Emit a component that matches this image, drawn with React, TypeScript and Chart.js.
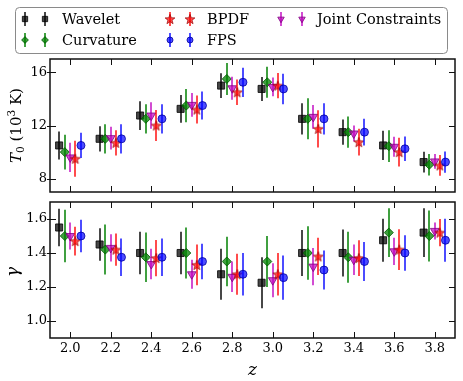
import React, { useEffect, useRef } from 'react';
import { Chart, registerables } from 'chart.js';
import { drawPoint } from 'chart.js/helpers';

Chart.register(...registerables);

// ---------------- data ----------------
const zValues = [2.0, 2.2, 2.4, 2.6, 2.8, 3.0, 3.2, 3.4, 3.6, 3.8];
const zTicks = [2.0, 2.2, 2.4, 2.6, 2.8, 3.0, 3.2, 3.4, 3.6, 3.8];
const zTickLabels = ['2.0', '2.2', '2.4', '2.6', '2.8', '3.0', '3.2', '3.4', '3.6', '3.8'];
const t0Ticks = [8, 12, 16];
const gammaTicks = [1.0, 1.2, 1.4, 1.6];
const gammaTickLabels = ['1.0', '1.2', '1.4', '1.6'];

const seriesNames = ['Wavelet', 'Curvature', 'BPDF', 'FPS', 'Joint Constraints'];

// T0 (10^3 K)
const waveletT0 = [10.5, 11.0, 12.75, 13.25, 15.0, 14.75, 12.5, 11.5, 10.5, 9.25];
const waveletT0Err = [1.05, 0.95, 1.08, 1.05, 0.93, 0.9, 1.17, 0.95, 1.1, 0.78];
const curvatureT0 = [10.0, 11.0, 12.5, 13.5, 15.5, 15.25, 12.5, 11.5, 10.45, 9.05];
const curvatureT0Err = [1.3, 1.1, 1.1, 1.25, 1.2, 1.16, 1.54, 1.17, 1.2, 0.8];
const bpdfT0 = [9.5, 10.7, 12.0, 13.2, 14.5, 15.0, 11.75, 10.75, 10.0, 9.0];
const bpdfT0Err = [1.35, 0.95, 1.17, 1.05, 0.95, 0.95, 1.4, 1.0, 1.08, 0.78];
const fpsT0 = [10.5, 11.0, 12.5, 13.5, 15.25, 14.75, 12.5, 11.5, 10.25, 9.25];
const fpsT0Err = [0.95, 1.1, 1.1, 1.05, 1.1, 1.15, 1.17, 1.0, 0.92, 0.8];
const jointT0 = [9.6, 11.05, 12.75, 13.55, 14.8, 14.9, 12.65, 11.4, 10.4, 9.3];
const jointT0Err = [1.1, 0.85, 1.0, 0.9, 0.87, 0.7, 0.9, 0.6, 0.75, 0.55];

// gamma
const waveletGamma = [1.55, 1.45, 1.4, 1.4, 1.275, 1.225, 1.4, 1.4, 1.475, 1.52];
const waveletGammaErr = [0.11, 0.095, 0.125, 0.125, 0.15, 0.15, 0.135, 0.138, 0.127, 0.143];
const curvatureGamma = [1.5, 1.42, 1.375, 1.4, 1.35, 1.35, 1.4, 1.375, 1.52, 1.5];
const curvatureGammaErr = [0.155, 0.147, 0.145, 0.15, 0.145, 0.15, 0.157, 0.15, 0.143, 0.15];
const bpdfGamma = [1.47, 1.42, 1.37, 1.33, 1.275, 1.275, 1.38, 1.37, 1.42, 1.52];
const bpdfGammaErr = [0.085, 0.095, 0.107, 0.12, 0.12, 0.125, 0.11, 0.105, 0.12, 0.08];
const fpsGamma = [1.5, 1.375, 1.375, 1.35, 1.275, 1.255, 1.3, 1.35, 1.4, 1.475];
const fpsGammaErr = [0.095, 0.11, 0.11, 0.105, 0.125, 0.13, 0.115, 0.115, 0.105, 0.127];
const jointGamma = [1.5, 1.43, 1.335, 1.275, 1.26, 1.24, 1.32, 1.36, 1.41, 1.53];
const jointGammaErr = [0.08, 0.08, 0.09, 0.085, 0.09, 0.1, 0.11, 0.09, 0.08, 0.05];

// ---------------- styles ----------------
const FONT = "'DejaVu Serif', serif";

type Spec = {
  name: string;
  t0: number[]; t0Err: number[]; g: number[]; gErr: number[];
  color: string; edge: string; style: string; radius: number; rotation: number;
  dz: number; order: number;
};

const specs: Spec[] = [
  { name: seriesNames[0], t0: waveletT0, t0Err: waveletT0Err, g: waveletGamma, gErr: waveletGammaErr,
    color: 'rgba(0,0,0,0.72)', edge: 'rgba(0,0,0,0.8)', style: 'rect', radius: 5, rotation: 0, dz: -0.055, order: 4 },
  { name: seriesNames[1], t0: curvatureT0, t0Err: curvatureT0Err, g: curvatureGamma, gErr: curvatureGammaErr,
    color: 'rgba(0,128,0,0.75)', edge: 'rgba(0,90,0,0.85)', style: 'rectRot', radius: 4.5, rotation: 0, dz: -0.027, order: 3 },
  { name: seriesNames[2], t0: bpdfT0, t0Err: bpdfT0Err, g: bpdfGamma, gErr: bpdfGammaErr,
    color: 'rgba(255,0,0,0.7)', edge: 'rgba(150,0,0,0.8)', style: 'star', radius: 5, rotation: 0, dz: 0.025, order: 1 },
  { name: seriesNames[3], t0: fpsT0, t0Err: fpsT0Err, g: fpsGamma, gErr: fpsGammaErr,
    color: 'rgba(0,0,255,0.7)', edge: 'rgba(0,0,160,0.8)', style: 'circle', radius: 4, rotation: 0, dz: 0.053, order: 0 },
  { name: seriesNames[4], t0: jointT0, t0Err: jointT0Err, g: jointGamma, gErr: jointGammaErr,
    color: 'rgba(191,0,191,0.7)', edge: 'rgba(130,0,130,0.8)', style: 'triangle', radius: 5, rotation: 180, dz: 0, order: 2 },
];

function makeStar(fill: string, stroke: string, R: number) {
  const size = Math.ceil(R * 2 + 3);
  const c = document.createElement('canvas');
  c.width = size; c.height = size;
  const ctx = c.getContext('2d')!;
  const cx = size / 2, cy = size / 2 + 0.5;
  ctx.beginPath();
  for (let i = 0; i < 10; i++) {
    const r = i % 2 === 0 ? R : R * 0.42;
    const a = -Math.PI / 2 + (i * Math.PI) / 5;
    const x = cx + r * Math.cos(a), y = cy + r * Math.sin(a);
    if (i === 0) ctx.moveTo(x, y); else ctx.lineTo(x, y);
  }
  ctx.closePath();
  ctx.fillStyle = fill; ctx.fill();
  ctx.strokeStyle = stroke; ctx.lineWidth = 0.8; ctx.stroke();
  return c;
}

const errorBarPlugin = {
  id: 'errorBars',
  beforeDatasetDraw(chart: any, args: any) {
    const ds = chart.data.datasets[args.index];
    const errs: number[] | undefined = ds.errors;
    if (!errs) return;
    const xs = chart.scales.x, ys = chart.scales.y;
    const ctx = chart.ctx;
    ctx.save();
    ctx.strokeStyle = ds.errorColor;
    ctx.lineWidth = 2;
    ds.data.forEach((p: any, j: number) => {
      const x = Math.round(xs.getPixelForValue(p.x));
      ctx.beginPath();
      ctx.moveTo(x, ys.getPixelForValue(p.y - errs[j]));
      ctx.lineTo(x, ys.getPixelForValue(p.y + errs[j]));
      ctx.stroke();
    });
    ctx.restore();
  },
};

function drawMixed(ctx: CanvasRenderingContext2D, parts: { t: string; font: string; dy: number }[], cx: number, cy: number) {
  let total = 0;
  parts.forEach((p) => { ctx.font = p.font; total += ctx.measureText(p.t).width; });
  let x = -total / 2;
  ctx.save();
  ctx.translate(cx, cy);
  ctx.rotate(-Math.PI / 2);
  ctx.textBaseline = 'alphabetic';
  ctx.textAlign = 'left';
  ctx.fillStyle = '#000';
  parts.forEach((p) => {
    ctx.font = p.font;
    ctx.fillText(p.t, x, 5 + p.dy);
    x += ctx.measureText(p.t).width;
  });
  ctx.restore();
}

function roundRectPath(ctx: CanvasRenderingContext2D, x: number, y: number, w: number, h: number, r: number) {
  ctx.beginPath();
  ctx.moveTo(x + r, y);
  ctx.lineTo(x + w - r, y);
  ctx.quadraticCurveTo(x + w, y, x + w, y + r);
  ctx.lineTo(x + w, y + h - r);
  ctx.quadraticCurveTo(x + w, y + h, x + w - r, y + h);
  ctx.lineTo(x + r, y + h);
  ctx.quadraticCurveTo(x, y + h, x, y + h - r);
  ctx.lineTo(x, y + r);
  ctx.quadraticCurveTo(x, y, x + r, y);
  ctx.closePath();
}

function drawLegend(ctx: CanvasRenderingContext2D, stars: HTMLCanvasElement) {
  ctx.save();
  roundRectPath(ctx, 15.5, 7.5, 432, 46, 4);
  ctx.fillStyle = 'rgba(255,255,255,0.95)';
  ctx.fill();
  ctx.strokeStyle = '#8a8a8a';
  ctx.lineWidth = 1;
  ctx.stroke();
  const slots = [
    { mx: [25, 45], tx: 62, y: 19 },
    { mx: [25, 45], tx: 62, y: 40 },
    { mx: [170, 190], tx: 207, y: 19 },
    { mx: [170, 190], tx: 207, y: 40 },
    { mx: [281, 302], tx: 317, y: 19 },
  ];
  specs.forEach((s, i) => {
    const slot = slots[i];
    slot.mx.forEach((mx) => {
      ctx.strokeStyle = s.color;
      ctx.lineWidth = 2;
      ctx.beginPath();
      ctx.moveTo(mx, slot.y - 7);
      ctx.lineTo(mx, slot.y + 7);
      ctx.stroke();
      ctx.fillStyle = s.color;
      ctx.strokeStyle = s.edge;
      ctx.lineWidth = 1;
      drawPoint(ctx, {
        pointStyle: s.style === 'star' ? stars : s.style,
        rotation: s.rotation,
        radius: s.radius * 0.75,
        borderWidth: 1,
      } as any, mx, slot.y);
    });
    ctx.fillStyle = '#000';
    ctx.font = `14.5px ${FONT}`;
    ctx.textBaseline = 'middle';
    ctx.textAlign = 'left';
    ctx.fillText(s.name, slot.tx, slot.y + 1);
  });
  ctx.restore();
}

function makeDecor(kind: 'top' | 'bottom', stars: HTMLCanvasElement) {
  return {
    id: 'decor' + kind,
    afterDraw(chart: any) {
      const ctx: CanvasRenderingContext2D = chart.ctx;
      const { left, right, top, bottom } = chart.chartArea;
      const xs = chart.scales.x, ys = chart.scales.y;
      ctx.save();
      ctx.strokeStyle = '#111';
      ctx.lineWidth = 1;
      zTicks.forEach((z) => {
        const x = Math.round(xs.getPixelForValue(z)) + 0.5;
        ctx.beginPath();
        ctx.moveTo(x, bottom); ctx.lineTo(x, bottom - 6);
        ctx.moveTo(x, top); ctx.lineTo(x, top + 6);
        ctx.stroke();
      });
      ys.ticks.forEach((t: any) => {
        const y = Math.round(ys.getPixelForValue(t.value)) + 0.5;
        ctx.beginPath();
        ctx.moveTo(left - 3, y); ctx.lineTo(left + 6, y);
        ctx.moveTo(right - 6, y); ctx.lineTo(right, y);
        ctx.stroke();
      });
      ctx.lineWidth = 1.5;
      ctx.strokeRect(left, top, right - left, bottom - top);

      const midY = (top + bottom) / 2;
      if (kind === 'top') {
        drawMixed(ctx, [
          { t: 'T', font: `italic 15px ${FONT}`, dy: 0 },
          { t: '0', font: `10.5px ${FONT}`, dy: 3 },
          { t: ' (10', font: `15px ${FONT}`, dy: 0 },
          { t: '3', font: `10.5px ${FONT}`, dy: -6 },
          { t: ' K)', font: `15px ${FONT}`, dy: 0 },
        ], 16, midY);
        drawLegend(ctx, stars);
      } else {
        drawMixed(ctx, [{ t: 'γ', font: `italic 17px ${FONT}`, dy: 0 }], 13, midY + 2);
        ctx.fillStyle = '#000';
        ctx.font = `italic 17px ${FONT}`;
        ctx.textAlign = 'center';
        ctx.textBaseline = 'middle';
        ctx.fillText('z', (left + right) / 2, 176);
      }
      ctx.restore();
    },
  };
}

function buildConfig(kind: 'top' | 'bottom', star: HTMLCanvasElement): any {
  const isTop = kind === 'top';
  const datasets = specs.map((s) => {
    const vals = isTop ? s.t0 : s.g;
    const errs = isTop ? s.t0Err : s.gErr;
    return {
      label: s.name,
      data: zValues.map((z, j) => ({ x: z + s.dz, y: vals[j] })),
      errors: errs,
      errorColor: s.color,
      order: s.order,
      showLine: false,
      pointStyle: s.style === 'star' ? star : s.style,
      pointRadius: s.radius,
      pointRotation: s.rotation,
      pointBackgroundColor: s.color,
      pointBorderColor: s.edge,
      pointBorderWidth: 1,
    };
  });
  const tickFont = { family: FONT, size: 13 };
  return {
    type: 'scatter',
    data: { datasets },
    options: {
      responsive: false,
      animation: false,
      events: [],
      layout: { padding: isTop ? { top: 59, right: 8, bottom: 3, left: 0 } : { top: 7, right: 8, bottom: 0, left: 0 } },
      plugins: { legend: { display: false }, tooltip: { enabled: false } },
      scales: {
        x: {
          type: 'linear',
          min: 1.9,
          max: 3.9,
          display: !isTop,
          grid: { display: false, drawTicks: false },
          border: { display: false },
          afterBuildTicks: (s: any) => { s.ticks = zTicks.map((v) => ({ value: v })); },
          afterFit: (s: any) => {
            s.height = isTop ? 0 : 43;
            s.paddingLeft = 0; s.paddingRight = 0; s.paddingTop = 0; s.paddingBottom = 0;
          },
          ticks: {
            font: tickFont,
            color: '#000',
            padding: 3,
            maxRotation: 0,
            autoSkip: false,
            callback: (v: number) => zTickLabels[zTicks.findIndex((t) => Math.abs(t - v) < 1e-6)] ?? '',
          },
        },
        y: {
          type: 'linear',
          min: isTop ? 7 : 0.9,
          max: isTop ? 17 : 1.7,
          grid: { display: false, drawTicks: false },
          border: { display: false },
          afterBuildTicks: (s: any) => { s.ticks = (isTop ? t0Ticks : gammaTicks).map((v) => ({ value: v })); },
          afterFit: (s: any) => {
            s.width = 50;
            s.paddingTop = 0; s.paddingBottom = 0; s.paddingLeft = 0; s.paddingRight = 0;
          },
          ticks: {
            font: tickFont,
            color: '#000',
            padding: 3,
            callback: (v: number) => isTop
              ? String(v)
              : gammaTickLabels[gammaTicks.findIndex((t) => Math.abs(t - v) < 1e-6)] ?? '',
          },
        },
      },
    },
    plugins: [errorBarPlugin, makeDecor(kind, star)],
  };
}

export default function App() {
  const topRef = useRef<HTMLCanvasElement>(null);
  const botRef = useRef<HTMLCanvasElement>(null);
  useEffect(() => {
    const star = makeStar('rgba(255,0,0,0.7)', 'rgba(150,0,0,0.85)', 5.2);
    const c1 = new Chart(topRef.current!, buildConfig('top', star));
    const c2 = new Chart(botRef.current!, buildConfig('bottom', star));
    return () => { c1.destroy(); c2.destroy(); };
  }, []);
  return (
    <div style={{ position: 'fixed', left: 0, top: 0, width: 463, height: 381, background: '#fff' }}>
      <canvas ref={topRef} width={463} height={198}
        style={{ position: 'absolute', left: 0, top: 0, width: 463, height: 198 }} />
      <canvas ref={botRef} width={463} height={186}
        style={{ position: 'absolute', left: 0, top: 195, width: 463, height: 186 }} />
    </div>
  );
}
